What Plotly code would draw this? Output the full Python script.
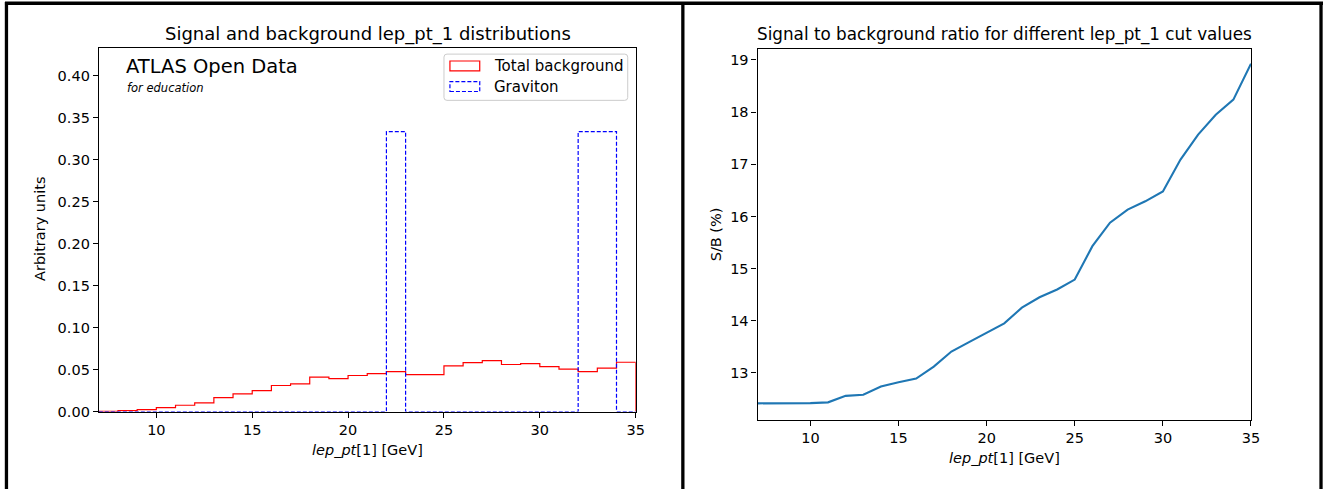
import plotly.graph_objects as go

W, H = 1332, 497

# ---------------- data ----------------
bin_edges = list(range(7, 36))  # 7..35
background = [0.0003, 0.001, 0.0024, 0.0048, 0.0075, 0.0103, 0.0167, 0.021, 0.025,
              0.031, 0.033, 0.0409, 0.0393, 0.0429, 0.0452, 0.0476, 0.044, 0.044,
              0.0544, 0.0583, 0.0607, 0.056, 0.0571, 0.0536, 0.0504, 0.0476, 0.0516,
              0.0587]
graviton = [0, 0, 0, 0, 0, 0, 0, 0, 0, 0, 0, 0, 0, 0, 0, 0.3333, 0, 0, 0, 0, 0, 0,
            0, 0, 0, 0.3333, 0.3333, 0]

cut_values = list(range(7, 36))
sb_ratio = [12.416, 12.416, 12.417, 12.42, 12.435, 12.56, 12.58, 12.74, 12.82, 12.89,
            13.12, 13.41, 13.59, 13.77, 13.95, 14.25, 14.45, 14.6, 14.79, 15.43,
            15.88, 16.13, 16.29, 16.48, 17.09, 17.57, 17.95, 18.24, 18.93]

left_xticks = [10, 15, 20, 25, 30, 35]
left_yticks = [0.0, 0.05, 0.10, 0.15, 0.20, 0.25, 0.30, 0.35, 0.40]
right_xticks = [10, 15, 20, 25, 30, 35]
right_yticks = [13, 14, 15, 16, 17, 18, 19]

FONT = "DejaVu Sans"
FS = 14.5


def px(x):
    return x / W


def py(y):
    return 1 - y / H


def step_xy(edges, vals):
    xs = [edges[0]] + edges[:-1] + [edges[-1], edges[-1]]
    ys = [0] + vals + [vals[-1], 0]
    return xs, ys


fig = go.Figure()

bx, by = step_xy(bin_edges, background)
fig.add_trace(go.Scatter(x=bx, y=by, mode="lines", line=dict(shape="hv", color="red", width=1.2),
                         name="Total background", xaxis="x", yaxis="y", showlegend=False))
gx, gy = step_xy(bin_edges, graviton)
fig.add_trace(go.Scatter(x=gx, y=gy, mode="lines",
                         line=dict(shape="hv", color="blue", width=1.2, dash="4px,2px"),
                         name="Graviton", xaxis="x", yaxis="y", showlegend=False))

fig.add_trace(go.Scatter(x=cut_values, y=sb_ratio, mode="lines",
                         line=dict(color="#1f77b4", width=2.1),
                         xaxis="x2", yaxis="y2", showlegend=False))

axis_common = dict(showline=True, linecolor="black", linewidth=1.1, mirror=True,
                   ticks="outside", ticklen=5, tickwidth=1.1, tickcolor="black",
                   showgrid=False, zeroline=False,
                   tickfont=dict(family=FONT, size=FS, color="black"))

fig.update_layout(
    width=W, height=H,
    margin=dict(l=0, r=0, t=0, b=0),
    paper_bgcolor="white", plot_bgcolor="white",
    showlegend=False,
    xaxis=dict(domain=[px(99.5), px(640)], range=[7, 35], tickvals=left_xticks,
               anchor="y", **axis_common),
    yaxis=dict(domain=[py(418.3), py(48.3)], range=[0, 0.4333], tickvals=left_yticks,
               tickformat=".2f", anchor="x", **axis_common),
    xaxis2=dict(domain=[px(762.7), px(1259.5)], range=[7, 35], tickvals=right_xticks,
                anchor="y2", **axis_common),
    yaxis2=dict(domain=[py(426.7), py(49.3)], range=[12.1, 19.22], tickvals=right_yticks,
                anchor="x2", **axis_common),
)

ann = []


def text(x, y, s, size=FS, xanchor="center", yanchor="middle", angle=0, italic=False):
    if italic:
        s = "<i>" + s + "</i>"
    ann.append(dict(x=px(x), y=py(y), xref="paper", yref="paper", text=s, showarrow=False,
                    xanchor=xanchor, yanchor=yanchor, textangle=angle,
                    font=dict(family=FONT, size=size, color="black")))


text(370, 35, "Signal and background lep_pt_1 distributions", size=18)
text(1011, 35, "Signal to background ratio for different lep_pt_1 cut values", size=16.8)
text(370, 457, "<i>lep_pt</i>[1] [GeV]")
text(1011, 465, "<i>lep_pt</i>[1] [GeV]")
text(41, 233, "Arbitrary units", angle=-90)
text(721, 238, "S/B (%)", angle=-90)
text(125, 68, "ATLAS Open Data", size=19.5, xanchor="left")
text(126, 89, "for education", size=11.5, xanchor="left", italic=True)

# legend (manual, matplotlib-style patches)
text(495, 67, "Total background", size=15, xanchor="left")
text(495, 88, "Graviton", size=15, xanchor="left")

fig.update_layout(annotations=ann)

shapes = []
# legend frame with rounded corners
lx0, ly0, lx1, ly1, r = 447, 55, 632, 102, 3
path = (f"M {px(lx0 + r)},{py(ly0)} L {px(lx1 - r)},{py(ly0)} Q {px(lx1)},{py(ly0)} {px(lx1)},{py(ly0 + r)} "
        f"L {px(lx1)},{py(ly1 - r)} Q {px(lx1)},{py(ly1)} {px(lx1 - r)},{py(ly1)} "
        f"L {px(lx0 + r)},{py(ly1)} Q {px(lx0)},{py(ly1)} {px(lx0)},{py(ly1 - r)} "
        f"L {px(lx0)},{py(ly0 + r)} Q {px(lx0)},{py(ly0)} {px(lx0 + r)},{py(ly0)} Z")
shapes.append(dict(type="path", xref="paper", yref="paper", path=path,
                   line=dict(color="#cccccc", width=1), fillcolor="rgba(255,255,255,0.8)"))
shapes.append(dict(type="rect", xref="paper", yref="paper", x0=px(453), x1=px(483),
                   y0=py(72), y1=py(62), line=dict(color="red", width=1.2)))
shapes.append(dict(type="rect", xref="paper", yref="paper", x0=px(453), x1=px(483),
                   y0=py(93), y1=py(83), line=dict(color="blue", width=1.2, dash="4px,2px")))

# outer black frame lines
for (x0, y0, x1, y1) in [(5, 3.3, 1332, 3.3), (6.5, 2, 6.5, 497), (687.5, 2, 687.5, 497),
                         (1330, 2, 1330, 497)]:
    shapes.append(dict(type="line", xref="paper", yref="paper", x0=px(x0), y0=py(y0),
                       x1=px(x1), y1=py(y1), line=dict(color="black", width=3.3)))

fig.update_layout(shapes=shapes)

fig.write_html("out.html", config={"displayModeBar": False},
               post_script="document.body.style.margin='0';document.body.style.overflow='hidden';")
